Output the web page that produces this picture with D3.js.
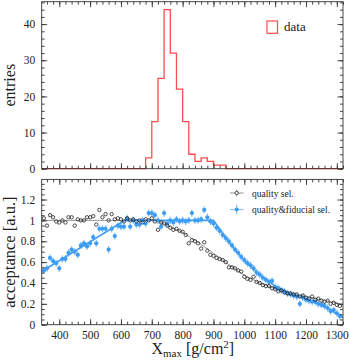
<!DOCTYPE html>
<html>
<head>
<meta charset="utf-8">
<script src="https://cdn.jsdelivr.net/npm/d3@7.9.0/dist/d3.min.js"></script>
<style>
  html, body { margin: 0; padding: 0; background: #fff; }
  svg { display: block; font-family: "Liberation Serif", serif; }
</style>
</head>
<body>
<svg id="chart" width="349" height="361"></svg>
<script>
// --- data ---
const histEdges = [680, 700, 720, 740, 760, 780, 800, 820, 840, 860, 880, 900, 920, 940];
const histCounts = [3, 13, 25, 44, 32, 22, 13, 4, 2, 3, 2, 1, 1];

const xmaxBins = [350, 360, 370, 380, 390, 400, 410, 420, 430, 440, 450, 460, 470, 480, 490,
  500, 510, 520, 530, 540, 550, 560, 570, 580, 590, 600, 610, 620, 630, 640, 650, 660, 670,
  680, 690, 700, 710, 720, 730, 740, 750, 760, 770, 780, 790, 800, 810, 820, 830, 840, 850,
  860, 870, 880, 890, 900, 910, 920, 930, 940, 950, 960, 970, 980, 990, 1000, 1010, 1020,
  1030, 1040, 1050, 1060, 1070, 1080, 1090, 1100, 1110, 1120, 1130, 1140, 1150, 1160, 1170,
  1180, 1190, 1200, 1210, 1220, 1230, 1240, 1250, 1260, 1270, 1280, 1290, 1300, 1310];

const qualityAcc = [1.02, 0.95, 1.05, 1.03, 0.99, 0.98, 1.00, 0.98, 1.03, 1.03, 0.95, 1.01,
  1.00, 1.00, 1.03, 1.03, 1.04, 0.96, 1.10, 1.03, 1.06, 1.00, 1.06, 1.01, 1.02, 1.01, 0.99,
  1.02, 1.00, 1.01, 0.99, 1.00, 0.98, 1.01, 1.00, 1.02, 0.99, 0.91, 0.98, 0.97, 0.95, 0.93,
  0.91, 0.92, 0.90, 0.89, 0.86, 0.78, 0.81, 0.80, 0.78, 0.73, 0.79, 0.71, 0.67, 0.66, 0.64,
  0.63, 0.62, 0.60, 0.55, 0.55, 0.54, 0.52, 0.51, 0.46, 0.44, 0.43, 0.46, 0.41, 0.40, 0.38,
  0.37, 0.37, 0.35, 0.34, 0.32, 0.33, 0.31, 0.30, 0.30, 0.29, 0.29, 0.27, 0.28, 0.26, 0.25,
  0.27, 0.24, 0.25, 0.23, 0.22, 0.23, 0.20, 0.21, 0.19, 0.18];

const fiducialAcc = [0.52, 0.54, 0.64, 0.61, 0.59, 0.54, 0.63, 0.63, 0.69, 0.72, 0.70, 0.67,
  0.76, 0.78, 0.75, 0.78, 0.84, 0.78, 0.92, 0.92, 0.92, 0.72, 0.92, 0.85, 0.95, 0.94, 0.94,
  1.02, 0.94, 1.00, 0.96, 0.96, 1.00, 0.97, 1.07, 1.07, 1.05, 1.00, 0.94, 1.07, 0.97, 1.00,
  0.98, 1.01, 0.99, 1.00, 0.99, 1.00, 1.07, 1.00, 1.00, 1.01, 1.10, 1.03, 0.99, 0.97, 0.93,
  0.90, 0.86, 0.83, 0.80, 0.76, 0.72, 0.69, 0.65, 0.62, 0.59, 0.57, 0.54, 0.50, 0.48, 0.45,
  0.43, 0.41, 0.42, 0.36, 0.35, 0.33, 0.32, 0.30, 0.29, 0.28, 0.27, 0.20, 0.26, 0.24, 0.23,
  0.22, 0.22, 0.20, 0.19, 0.18, 0.16, 0.13, 0.14, 0.11, 0.08];
const fiducialErr = 0.035;

// fitted acceptance curves (x in g/cm^2, acceptance)
const qualityFit = [[343, 1.0], [715, 1.0], [800, 0.885], [850, 0.79], [900, 0.685], [950, 0.575],
  [1000, 0.475], [1050, 0.40], [1100, 0.345], [1150, 0.305], [1200, 0.27], [1250, 0.24], [1320, 0.195]];
const fiducialFit = [[343, 0.51], [613, 1.0], [900, 1.0], [950, 0.79], [1000, 0.615], [1050, 0.48],
  [1100, 0.37], [1150, 0.30], [1200, 0.245], [1250, 0.19], [1320, 0.07]];

const xTicks = [400, 500, 600, 700, 800, 900, 1000, 1100, 1200, 1300];
const entriesTicks = [0, 10, 20, 30, 40];
const accTicks = [0, 0.2, 0.4, 0.6, 0.8, 1, 1.2];

// --- layout ---
const svg = d3.select('#chart');
const left = 41.7, right = 343;
const topPanel = { top: 1.7, bottom: 168.7 };
const botPanel = { top: 179.4, bottom: 324.7 };

const x = d3.scaleLinear().domain([343, 1320]).range([left, right]);
const yTop = d3.scaleLinear().domain([0, 46.2]).range([topPanel.bottom, topPanel.top]);
const yBot = d3.scaleLinear().domain([0, 1.393]).range([botPanel.bottom, botPanel.top]);

const frameColor = '#333';
const blue = '#3d9cf3';

function minorValues(domain, step) {
  const out = [];
  for (let v = Math.ceil(domain[0] / step) * step; v <= domain[1] + 1e-9; v += step) out.push(+v.toFixed(6));
  return out;
}

// draws inward ROOT-style ticks on all four sides of a panel
function drawFrame(yScale, panel, yTicksMajor, yMinorStep, showX, yFmt) {
  const g = svg.append('g');
  const xMinor = minorValues(x.domain(), 20);
  const yMinor = minorValues(yScale.domain(), yMinorStep);

  const axes = [
    { gen: d3.axisBottom, scale: x, pos: `translate(0,${panel.bottom})`, maj: xTicks, min: xMinor, labels: showX },
    { gen: d3.axisTop, scale: x, pos: `translate(0,${panel.top})`, maj: xTicks, min: xMinor, labels: false },
    { gen: d3.axisLeft, scale: yScale, pos: `translate(${left},0)`, maj: yTicksMajor, min: yMinor, labels: true },
    { gen: d3.axisRight, scale: yScale, pos: `translate(${right},0)`, maj: yTicksMajor, min: yMinor, labels: false }
  ];
  axes.forEach(a => {
    const minorAxis = a.gen(a.scale).tickValues(a.min).tickSize(-3).tickFormat('');
    const gm = g.append('g').attr('transform', a.pos).call(minorAxis);
    const majorAxis = a.gen(a.scale).tickValues(a.maj).tickSize(-5.5).tickPadding(6.5)
      .tickFormat(a.labels ? (a.scale === x ? d3.format('d') : yFmt) : '');
    const gM = g.append('g').attr('transform', a.pos).call(majorAxis);
    [gm, gM].forEach(s => {
      s.select('.domain').remove();
      s.selectAll('line').attr('stroke', frameColor).attr('stroke-width', 0.9);
      s.selectAll('text').attr('fill', '#222').style('font-size', '11.5px')
        .style('font-family', '"Liberation Serif", serif');
    });
  });
  g.append('rect')
    .attr('x', left).attr('y', panel.top)
    .attr('width', right - left).attr('height', panel.bottom - panel.top)
    .attr('fill', 'none').attr('stroke', frameColor).attr('stroke-width', 0.9);
}

// --- top panel: histogram (step outline) ---
const histPts = [[x.domain()[0], 0], [histEdges[0], 0]];
histCounts.forEach((c, i) => {
  histPts.push([histEdges[i], c]);
  histPts.push([histEdges[i + 1], c]);
});
histPts.push([histEdges[histEdges.length - 1], 0], [x.domain()[1], 0]);
svg.append('path')
  .attr('d', d3.line().x(d => x(d[0])).y(d => yTop(d[1]))(histPts))
  .attr('fill', 'none').attr('stroke', '#ff4d4d').attr('stroke-width', 1.3);

drawFrame(yTop, topPanel, entriesTicks, 2, false, d3.format('d'));

// top legend
svg.append('rect').attr('x', 267).attr('y', 21).attr('width', 10.5).attr('height', 12.3)
  .attr('fill', 'none').attr('stroke', '#ff4d4d').attr('stroke-width', 1.2);
svg.append('text').attr('x', 284).attr('y', 30.5).text('data')
  .style('font-size', '13px').attr('fill', '#222');

// y title top
svg.append('text')
  .attr('transform', `translate(15,${(topPanel.top + topPanel.bottom) / 2}) rotate(-90)`)
  .attr('text-anchor', 'middle').style('font-size', '16px').attr('fill', '#222')
  .text('entries');

// --- bottom panel: acceptance ---
const lineGen = d3.line().x(d => x(d[0])).y(d => yBot(d[1]));
svg.append('clipPath').attr('id', 'botclip').append('rect')
  .attr('x', left).attr('y', botPanel.top).attr('width', right - left).attr('height', botPanel.bottom - botPanel.top);
const plot = svg.append('g').attr('clip-path', 'url(#botclip)');

plot.append('path').attr('d', lineGen(qualityFit))
  .attr('fill', 'none').attr('stroke', '#9a9a9a').attr('stroke-width', 1);

// quality&fiducial: filled blue with error bars
const fid = xmaxBins.map((xv, i) => ({ x: xv, y: fiducialAcc[i] }));
plot.append('g').selectAll('line').data(fid).join('line')
  .attr('x1', d => x(d.x)).attr('x2', d => x(d.x))
  .attr('y1', d => yBot(d.y - fiducialErr)).attr('y2', d => yBot(d.y + fiducialErr))
  .attr('stroke', '#8cc4f7').attr('stroke-width', 1.2);
plot.append('g').selectAll('line').data(fid).join('line')
  .attr('x1', d => x(d.x - 5)).attr('x2', d => x(d.x + 5))
  .attr('y1', d => yBot(d.y)).attr('y2', d => yBot(d.y))
  .attr('stroke', '#8cc4f7').attr('stroke-width', 1);

plot.append('path').attr('d', lineGen(fiducialFit))
  .attr('fill', 'none').attr('stroke', blue).attr('stroke-width', 1.6);

plot.append('g').selectAll('circle').data(fid).join('circle')
  .attr('cx', d => x(d.x)).attr('cy', d => yBot(d.y)).attr('r', 2.1)
  .attr('fill', blue);

// quality sel.: open black circles
plot.append('g').selectAll('circle').data(xmaxBins.map((xv, i) => ({ x: xv, y: qualityAcc[i] }))).join('circle')
  .attr('cx', d => x(d.x)).attr('cy', d => yBot(d.y)).attr('r', 1.7)
  .attr('fill', 'none').attr('stroke', '#222').attr('stroke-width', 0.8);

drawFrame(yBot, botPanel, accTicks, 0.05, true, d => String(+d.toFixed(1)));

// bottom legend
const lg = svg.append('g');
lg.append('line').attr('x1', 230).attr('x2', 243.5).attr('y1', 193).attr('y2', 193)
  .attr('stroke', '#888').attr('stroke-width', 0.9);
lg.append('line').attr('x1', 236.7).attr('x2', 236.7).attr('y1', 189.5).attr('y2', 196.5)
  .attr('stroke', '#888').attr('stroke-width', 0.9);
lg.append('circle').attr('cx', 236.7).attr('cy', 193).attr('r', 1.7)
  .attr('fill', '#fff').attr('stroke', '#222').attr('stroke-width', 0.8);
lg.append('text').attr('x', 252).attr('y', 196.5).text('quality sel.')
  .style('font-size', '9.5px').attr('fill', '#222');

lg.append('line').attr('x1', 230).attr('x2', 243.5).attr('y1', 209.5).attr('y2', 209.5)
  .attr('stroke', '#8cc4f7').attr('stroke-width', 1.2);
lg.append('line').attr('x1', 236.7).attr('x2', 236.7).attr('y1', 205).attr('y2', 214)
  .attr('stroke', '#8cc4f7').attr('stroke-width', 1.2);
lg.append('circle').attr('cx', 236.7).attr('cy', 209.5).attr('r', 2.1).attr('fill', blue);
lg.append('text').attr('x', 252).attr('y', 212.7).text('quality&fiducial sel.')
  .style('font-size', '9.5px').attr('fill', '#222');

// titles
svg.append('text')
  .attr('transform', `translate(15,${(botPanel.top + botPanel.bottom) / 2}) rotate(-90)`)
  .attr('text-anchor', 'middle').style('font-size', '16.5px').attr('fill', '#222')
  .text('acceptance [a.u.]');

const xt = svg.append('text').attr('x', 151.5).attr('y', 354).style('font-size', '16px').attr('fill', '#222');
xt.append('tspan').text('X');
xt.append('tspan').attr('dy', 3).style('font-size', '11px').text('max');
xt.append('tspan').attr('dy', -3).text(' [g/cm');
xt.append('tspan').attr('dy', -6).style('font-size', '11px').text('2');
xt.append('tspan').attr('dy', 6).text(']');
</script>
</body>
</html>
